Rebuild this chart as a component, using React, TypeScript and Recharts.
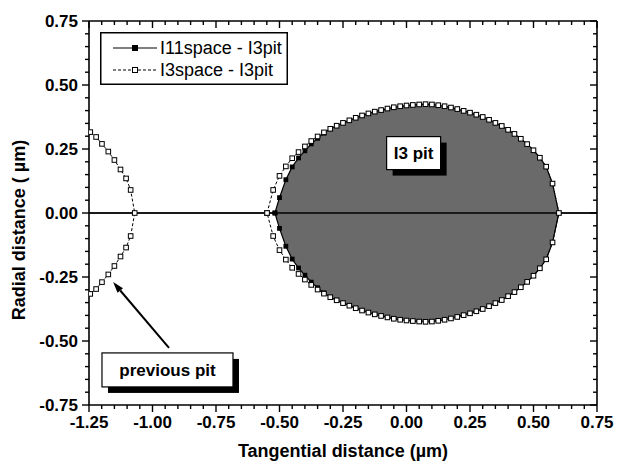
import React from 'react';
import {
  ComposedChart,
  XAxis,
  YAxis,
  Area,
  Scatter,
  ReferenceLine,
  ReferenceDot,
  Legend,
} from 'recharts';

// ---------- data ----------
// I3space - I3pit contour (open squares), upper and lower halves
const spaceX = [
  -0.549, -0.525, -0.5, -0.475, -0.45, -0.425, -0.4, -0.375, -0.35, -0.325, -0.3, -0.275,
  -0.25, -0.225, -0.2, -0.175, -0.15, -0.125, -0.1, -0.075, -0.05, -0.025, 0, 0.025, 0.05,
  0.075, 0.1, 0.125, 0.15, 0.175, 0.2, 0.225, 0.25, 0.275, 0.3, 0.325, 0.35, 0.375, 0.4,
  0.425, 0.45, 0.475, 0.5, 0.525, 0.55, 0.575, 0.6,
];
const spaceUpper = [
  0, 0.09, 0.145, 0.182, 0.214, 0.238, 0.26, 0.281, 0.299, 0.315, 0.329, 0.341, 0.352, 0.362,
  0.372, 0.381, 0.389, 0.396, 0.402, 0.408, 0.413, 0.417, 0.42, 0.422, 0.424, 0.425, 0.424,
  0.421, 0.417, 0.412, 0.406, 0.399, 0.392, 0.384, 0.375, 0.364, 0.352, 0.34, 0.325, 0.309,
  0.29, 0.269, 0.245, 0.216, 0.181, 0.115, 0,
];
const spaceLower = [
  0, -0.09, -0.145, -0.182, -0.214, -0.238, -0.26, -0.281, -0.299, -0.315, -0.329, -0.341,
  -0.352, -0.362, -0.372, -0.381, -0.389, -0.396, -0.402, -0.408, -0.413, -0.417, -0.42,
  -0.422, -0.424, -0.425, -0.424, -0.421, -0.417, -0.412, -0.406, -0.399, -0.392, -0.384,
  -0.375, -0.364, -0.352, -0.34, -0.325, -0.309, -0.29, -0.269, -0.245, -0.216, -0.181,
  -0.115, 0,
];

// I11space - I3pit contour (filled squares, filled pit)
const pitX = [
  -0.518, -0.5, -0.475, -0.45, -0.425, -0.4, -0.375, -0.35, -0.325, -0.3, -0.275, -0.25,
  -0.225, -0.2, -0.175, -0.15, -0.125, -0.1, -0.075, -0.05, -0.025, 0, 0.025, 0.05, 0.075,
  0.1, 0.125, 0.15, 0.175, 0.2, 0.225, 0.25, 0.275, 0.3, 0.325, 0.35, 0.375, 0.4, 0.425,
  0.45, 0.475, 0.5, 0.525, 0.55, 0.575, 0.6,
];
const pitUpper = [
  0, 0.06, 0.13, 0.18, 0.215, 0.243, 0.27, 0.292, 0.312, 0.329, 0.341, 0.352, 0.362, 0.372,
  0.381, 0.389, 0.396, 0.402, 0.408, 0.413, 0.417, 0.42, 0.422, 0.424, 0.425, 0.424, 0.421,
  0.417, 0.412, 0.406, 0.399, 0.392, 0.384, 0.375, 0.364, 0.352, 0.34, 0.325, 0.309, 0.29,
  0.269, 0.245, 0.216, 0.181, 0.115, 0,
];
const pitLower = [
  0, -0.06, -0.13, -0.18, -0.215, -0.243, -0.27, -0.292, -0.312, -0.329, -0.341, -0.352,
  -0.362, -0.372, -0.381, -0.389, -0.396, -0.402, -0.408, -0.413, -0.417, -0.42, -0.422,
  -0.424, -0.425, -0.424, -0.421, -0.417, -0.412, -0.406, -0.399, -0.392, -0.384, -0.375,
  -0.364, -0.352, -0.34, -0.325, -0.309, -0.29, -0.269, -0.245, -0.216, -0.181, -0.115, 0,
];

// previous pit (I3space contour, right end only)
const prevX = [-1.07, -1.086, -1.104, -1.126, -1.15, -1.174, -1.199, -1.222, -1.245];
const prevUpper = [0, 0.09, 0.135, 0.17, 0.207, 0.24, 0.27, 0.297, 0.316];
const prevLower = [0, -0.09, -0.135, -0.17, -0.207, -0.24, -0.27, -0.297, -0.316];

// ticks
const xTicks = [
  -1.25, -1.2, -1.15, -1.1, -1.05, -1, -0.95, -0.9, -0.85, -0.8, -0.75, -0.7, -0.65, -0.6,
  -0.55, -0.5, -0.45, -0.4, -0.35, -0.3, -0.25, -0.2, -0.15, -0.1, -0.05, 0, 0.05, 0.1, 0.15,
  0.2, 0.25, 0.3, 0.35, 0.4, 0.45, 0.5, 0.55, 0.6, 0.65, 0.7, 0.75,
];
const xMajor = [-1.25, -1, -0.75, -0.5, -0.25, 0, 0.25, 0.5, 0.75];
const yTicks = [
  -0.75, -0.7, -0.65, -0.6, -0.55, -0.5, -0.45, -0.4, -0.35, -0.3, -0.25, -0.2, -0.15, -0.1,
  -0.05, 0, 0.05, 0.1, 0.15, 0.2, 0.25, 0.3, 0.35, 0.4, 0.45, 0.5, 0.55, 0.6, 0.65, 0.7, 0.75,
];
const yMajor = [-0.75, -0.5, -0.25, 0, 0.25, 0.5, 0.75];

const seriesNames = ['I11space - I3pit', 'I3space - I3pit'];
const xTitle = 'Tangential distance (\u00b5m)';
const yTitle = 'Radial distance ( \u00b5m)';
const pitLabel = 'I3 pit';
const prevLabel = 'previous pit';
const pitLabelPos = { x: 0.028, y: 0.234 };
const prevLabelPos = { x: -0.941, y: -0.613 };
const arrowTail = { x: -0.935, y: -0.527 };
const arrowTip = { x: -1.155, y: -0.27 };

// ---------- tables built from the arrays ----------
const closedContour = (xs: number[], up: number[], lo: number[]) => [
  ...xs.map((x, i) => ({ x, y: up[i] })),
  ...xs
    .map((x, i) => ({ x, y: lo[i] }))
    .reverse()
    .slice(1),
];
const spaceData = closedContour(spaceX, spaceUpper, spaceLower);
const pitData = closedContour(pitX, pitUpper, pitLower);
const prevData = [
  ...prevX.map((x, i) => ({ x, y: prevUpper[i] })).reverse(),
  ...prevX.map((x, i) => ({ x, y: prevLower[i] })).slice(1),
];
const fillData = pitX.map((x, i) => ({ x, range: [pitLower[i], pitUpper[i]] }));

// ---------- styling ----------
const FONT = '"Liberation Sans", Arial, Helvetica, sans-serif';
const AXIS = { stroke: '#000', strokeWidth: 1.6 };
const DASH = '3 2';
const isMajor = (list: number[], v: number) => list.some((m) => Math.abs(m - v) < 1e-9);

function BottomTick(props: any) {
  const { x, y, payload } = props;
  const major = isMajor(xMajor, payload.value);
  return (
    <g>
      <line x1={x} x2={x} y1={y} y2={y + (major ? 7 : 4)} stroke="#000" strokeWidth={1.4} />
      {major && (
        <text x={x} y={y + 23} textAnchor="middle" fontFamily={FONT} fontSize={17} fontWeight="bold" fill="#000">
          {payload.value.toFixed(2)}
        </text>
      )}
    </g>
  );
}
function TopTick(props: any) {
  const { x, y, payload } = props;
  const major = isMajor(xMajor, payload.value);
  return <line x1={x} x2={x} y1={y} y2={y + (major ? 7 : 4)} stroke="#000" strokeWidth={1.4} />;
}
function LeftTick(props: any) {
  const { x, y, payload } = props;
  const major = isMajor(yMajor, payload.value);
  return (
    <g>
      <line x1={x} x2={x - (major ? 7 : 4)} y1={y} y2={y} stroke="#000" strokeWidth={1.4} />
      {major && (
        <text x={x - 11} y={y} dy="0.36em" textAnchor="end" fontFamily={FONT} fontSize={17} fontWeight="bold" fill="#000">
          {payload.value.toFixed(2)}
        </text>
      )}
    </g>
  );
}
function RightTick(props: any) {
  const { x, y, payload } = props;
  const major = isMajor(yMajor, payload.value);
  return <line x1={x} x2={x - (major ? 7 : 4)} y1={y} y2={y} stroke="#000" strokeWidth={1.4} />;
}

const OpenSquare = (p: any) => (
  <rect x={p.cx - 2.3} y={p.cy - 2.3} width={4.6} height={4.6} fill="#fff" stroke="#000" strokeWidth={1} />
);
const FilledSquare = (p: any) => (
  <rect x={p.cx - 2.4} y={p.cy - 2.4} width={4.8} height={4.8} fill="#000" />
);

function BoxLabel({ cx, cy, text, w, h }: any) {
  return (
    <g>
      <rect x={cx - w / 2 + 6} y={cy - h / 2 + 6} width={w} height={h} fill="#000" />
      <rect x={cx - w / 2} y={cy - h / 2} width={w} height={h} fill="#fff" stroke="#000" strokeWidth={1.2} />
      <text x={cx} y={cy} dy="0.36em" textAnchor="middle" fontFamily={FONT} fontSize={17} fontWeight="bold" fill="#000">
        {text}
      </text>
    </g>
  );
}

function Arrow(props: any) {
  const { x1, y1, x2, y2 } = props;
  const dx = x2 - x1;
  const dy = y2 - y1;
  const len = Math.hypot(dx, dy) || 1;
  const ux = dx / len;
  const uy = dy / len;
  const hl = 11;
  const hw = 3.6;
  const bx = x2 - ux * hl;
  const by = y2 - uy * hl;
  return (
    <g>
      <line x1={x1} y1={y1} x2={bx} y2={by} stroke="#000" strokeWidth={2} />
      <polygon
        points={`${x2},${y2} ${bx - uy * hw},${by + ux * hw} ${bx + uy * hw},${by - ux * hw}`}
        fill="#000"
      />
    </g>
  );
}

function LegendBox() {
  return (
    <svg width={188} height={53} style={{ display: 'block' }}>
      <rect x={0.75} y={0.75} width={186.5} height={51.5} fill="#fff" stroke="#000" strokeWidth={1.5} />
      <line x1={13} x2={57} y1={16} y2={16} stroke="#000" strokeWidth={1.2} />
      <rect x={32} y={13} width={6} height={6} fill="#000" />
      <text x={60} y={16} dy="0.36em" fontFamily={FONT} fontSize={18} fill="#000">
        {seriesNames[0]}
      </text>
      <line x1={13} x2={57} y1={38} y2={38} stroke="#000" strokeWidth={1} strokeDasharray={DASH} />
      <rect x={32.5} y={35.5} width={5} height={5} fill="#fff" stroke="#000" strokeWidth={1} />
      <text x={60} y={38} dy="0.36em" fontFamily={FONT} fontSize={18} fill="#000">
        {seriesNames[1]}
      </text>
    </svg>
  );
}

export default function App() {
  return (
    <div style={{ position: 'absolute', left: 0, top: 0, width: 617, height: 464, background: '#fff' }}>
      <ComposedChart
        width={617}
        height={464}
        data={fillData}
        margin={{ top: 20, right: 19, bottom: 19, left: 29 }}
      >
        <XAxis
          dataKey="x"
          type="number"
          domain={[-1.25, 0.75]}
          ticks={xTicks}
          interval={0}
          allowDataOverflow
          height={40}
          tickSize={0}
          tickMargin={0}
          tickLine={false}
          axisLine={AXIS}
          tick={<BottomTick />}
          label={(p: any) => {
            const vb = p.viewBox || {};
            return (
              <text
                x={vb.x + vb.width / 2}
                y={vb.y + 52}
                textAnchor="middle"
                fontFamily={FONT}
                fontSize={18}
                fontWeight="bold"
                fill="#000"
              >
                {xTitle}
              </text>
            );
          }}
        />
        <XAxis
          xAxisId="top"
          orientation="top"
          dataKey="x"
          type="number"
          domain={[-1.25, 0.75]}
          ticks={xTicks}
          interval={0}
          allowDataOverflow
          height={1}
          tickSize={0}
          tickMargin={0}
          tickLine={false}
          axisLine={AXIS}
          tick={<TopTick />}
        />
        <YAxis
          dataKey="y"
          type="number"
          domain={[-0.75, 0.75]}
          ticks={yTicks}
          interval={0}
          allowDataOverflow
          width={60}
          tickSize={0}
          tickMargin={0}
          tickLine={false}
          axisLine={AXIS}
          tick={<LeftTick />}
          label={(p: any) => {
            const vb = p.viewBox || {};
            const cx = 25;
            const cy = vb.y + vb.height / 2 + 17;
            return (
              <text
                x={cx}
                y={cy}
                textAnchor="middle"
                transform={`rotate(-90, ${cx}, ${cy})`}
                fontFamily={FONT}
                fontSize={18}
                fontWeight="bold"
                fill="#000"
              >
                {yTitle}
              </text>
            );
          }}
        />
        <YAxis
          yAxisId="right"
          orientation="right"
          type="number"
          domain={[-0.75, 0.75]}
          ticks={yTicks}
          interval={0}
          allowDataOverflow
          width={1}
          tickSize={0}
          tickMargin={0}
          tickLine={false}
          axisLine={AXIS}
          tick={<RightTick />}
        />
        <Area
          type="linear"
          dataKey="range"
          fill="#6a6a6a"
          fillOpacity={1}
          stroke="none"
          isAnimationActive={false}
          activeDot={false}
          dot={false}
        />
        <ReferenceLine y={0} stroke="#1a1a1a" strokeWidth={2} />
        <Scatter
          name={seriesNames[0]}
          data={pitData}
          line={{ stroke: '#000', strokeWidth: 1.2 }}
          lineType="joint"
          shape={FilledSquare}
          isAnimationActive={false}
        />
        <Scatter
          name={seriesNames[1]}
          data={spaceData}
          line={{ stroke: '#000', strokeWidth: 1, strokeDasharray: DASH }}
          lineType="joint"
          shape={OpenSquare}
          isAnimationActive={false}
        />
        <Scatter
          name="previous"
          data={prevData}
          line={{ stroke: '#000', strokeWidth: 1, strokeDasharray: DASH }}
          lineType="joint"
          shape={OpenSquare}
          isAnimationActive={false}
        />
        <ReferenceLine
          segment={[arrowTail, arrowTip]}
          ifOverflow="visible"
          shape={(p: any) => <Arrow {...p} />}
        />
        <ReferenceDot
          x={pitLabelPos.x}
          y={pitLabelPos.y}
          r={0}
          ifOverflow="visible"
          shape={(p: any) => <BoxLabel cx={p.cx} cy={p.cy} text={pitLabel} w={54} h={33} />}
        />
        <ReferenceDot
          x={prevLabelPos.x}
          y={prevLabelPos.y}
          r={0}
          ifOverflow="visible"
          shape={(p: any) => <BoxLabel cx={p.cx} cy={p.cy} text={prevLabel} w={131} h={34} />}
        />
        <Legend
          layout="vertical"
          align="center"
          verticalAlign="middle"
          content={() => <LegendBox />}
          wrapperStyle={{ left: 100, top: 32, width: 188, height: 53 }}
        />
      </ComposedChart>
    </div>
  );
}
